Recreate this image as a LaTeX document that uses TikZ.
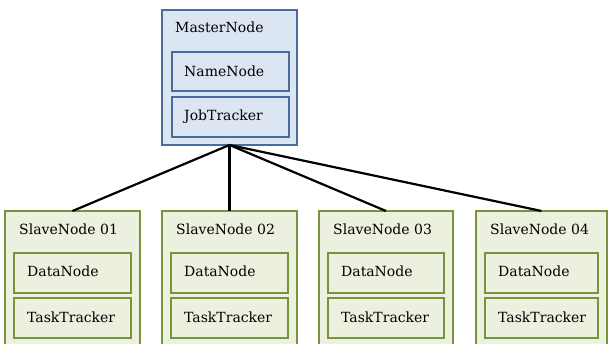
\documentclass[tikz,border=0pt]{standalone}
\usepackage{fontspec}
\setmainfont{DejaVu Serif}
\definecolor{mfill}{HTML}{DCE6F2}
\definecolor{mdraw}{HTML}{4A6C9B}
\definecolor{sfill}{HTML}{EBF1DE}
\definecolor{sdraw}{HTML}{77933C}
\begin{document}
\begin{tikzpicture}[x=1pt,y=-1pt,
  box/.style={rectangle, inner sep=0pt, outer sep=0pt, line width=2.4pt, anchor=north west},
  mbox/.style={box, fill=mfill, draw=mdraw},
  sbox/.style={box, fill=sfill, draw=sdraw},
  lbl/.style={anchor=west, inner sep=0pt, font=\fontsize{14}{16}\selectfont},
  link/.style={line width=2.2pt, black}]
\clip (0,0) rectangle (608,344);
\fill[white] (0,0) rectangle (608,344);
% master
\node[mbox, minimum width=135pt, minimum height=135pt] (m) at (162,10) {};
\node[lbl] (mt) at (175,27) {MasterNode};
\node[mbox, minimum width=117pt, minimum height=39pt] (nn) at (172,52) {};
\node[lbl] (nnt) at (184,71) {NameNode};
\node[mbox, minimum width=117pt, minimum height=40pt] (jt) at (172,97) {};
\node[lbl] (jtt) at (184,117) {JobTracker};
% slaves
\foreach \i/\x/\w in {1/5/135,2/162/135,3/319/134,4/476/131}{
  \node[sbox, minimum width=\w pt, minimum height=150pt] (s\i) at (\x,211) {};
  \node[lbl] (s\i t) at (\x+14,229) {SlaveNode 0\i};
  \node[sbox, minimum width=\w pt-18pt, minimum height=40pt] (d\i) at (\x+9,253) {};
  \node[lbl] (d\i t) at (\x+22,271) {DataNode};
  \node[sbox, minimum width=\w pt-18pt, minimum height=40pt] (t\i) at (\x+9,298) {};
  \node[lbl] (t\i t) at (\x+22,317) {TaskTracker};
}
\foreach \i in {1,2,3,4}{
  \draw[link] (m.south) -- (s\i.north);
}
\end{tikzpicture}
\end{document}
